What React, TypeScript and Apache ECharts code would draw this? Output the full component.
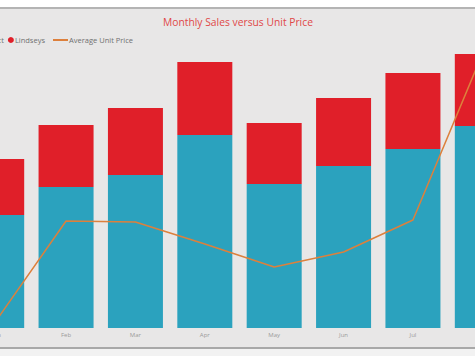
import React, { useEffect, useRef } from "react";
import * as echarts from "echarts";

const months = ["Jan", "Feb", "Mar", "Apr", "May", "Jun", "Jul", "Aug"];
const directSales = [113, 141, 153, 193, 144, 162, 179, 202];
const lindseysSales = [56, 62, 67, 73, 61, 68, 76, 72];
const avgUnitPrice = [8, 107, 106, 84, 61, 76, 108, 274];

const OFFSET = 38;

export default function App() {
  const ref = useRef<HTMLDivElement>(null);
  useEffect(() => {
    if (!ref.current) return;
    const chart = echarts.init(ref.current, undefined, { renderer: "svg" });
    const font = "'Open Sans', 'Noto Sans', sans-serif";
    chart.setOption({
      animation: false,
      backgroundColor: "#ffffff",
      graphic: [
        { type: "rect", z: -10, shape: { x: 0, y: 7, width: 560, height: 2 }, style: { fill: "#b4b4b4" } },
        { type: "rect", z: -10, shape: { x: 0, y: 9, width: 560, height: 338 }, style: { fill: "#e8e7e7" } },
        { type: "rect", z: -10, shape: { x: 0, y: 347, width: 560, height: 2 }, style: { fill: "#a8a8a8" } },
        { type: "rect", z: -10, shape: { x: 0, y: 349, width: 560, height: 7 }, style: { fill: "#f2f2f2" } },
      ],
      title: {
        text: "Monthly Sales versus Unit Price",
        left: 163 + OFFSET,
        top: 17,
        padding: 0,
        textStyle: { color: "#e04848", fontSize: 10.3, fontWeight: "normal", fontFamily: font },
      },
      legend: [
        {
          data: ["Direct", "Lindseys"],
          left: -29 + OFFSET,
          top: 31,
          icon: "circle",
          itemWidth: 6,
          itemHeight: 6,
          itemGap: 4,
          textStyle: { color: "#707070", fontSize: 7.5, fontFamily: font, padding: [0, 0, 0, -4] },
        },
        {
          data: ["Average Unit Price"],
          left: 48 + OFFSET,
          top: 31,
          icon: "rect",
          itemWidth: 15,
          itemHeight: 2,
          textStyle: { color: "#707070", fontSize: 7.5, fontFamily: font, padding: [0, 0, 0, -4] },
        },
      ],
      grid: { left: 0, right: 0, top: 48, bottom: 28, containLabel: false },
      xAxis: {
        type: "category",
        data: months,
        axisLine: { show: false },
        axisTick: { show: false },
        axisLabel: { color: "#9a9a9a", fontSize: 6, margin: 4, fontFamily: font },
      },
      yAxis: [
        { type: "value", min: 0, max: 280, show: false, splitLine: { show: false } },
        { type: "value", min: 0, max: 280, show: false, splitLine: { show: false } },
      ],
      series: [
        {
          name: "Direct",
          type: "bar",
          stack: "sales",
          barWidth: 55,
          data: directSales,
          itemStyle: { color: "#2ba2be" },
        },
        {
          name: "Lindseys",
          type: "bar",
          stack: "sales",
          barWidth: 55,
          data: lindseysSales,
          itemStyle: { color: "#e01f29" },
        },
        {
          name: "Average Unit Price",
          type: "line",
          yAxisIndex: 1,
          data: avgUnitPrice,
          symbol: "none",
          lineStyle: { color: "#dd803c", width: 1.5 },
          itemStyle: { color: "#dd803c" },
          z: 5,
        },
      ],
    });
    return () => chart.dispose();
  }, []);
  return (
    <div style={{ position: "absolute", left: 0, top: 0, width: 475, height: 356, overflow: "hidden" }}>
      <div
        ref={ref}
        style={{ position: "absolute", left: -OFFSET, top: 0, width: 555, height: 356 }}
      />
    </div>
  );
}
